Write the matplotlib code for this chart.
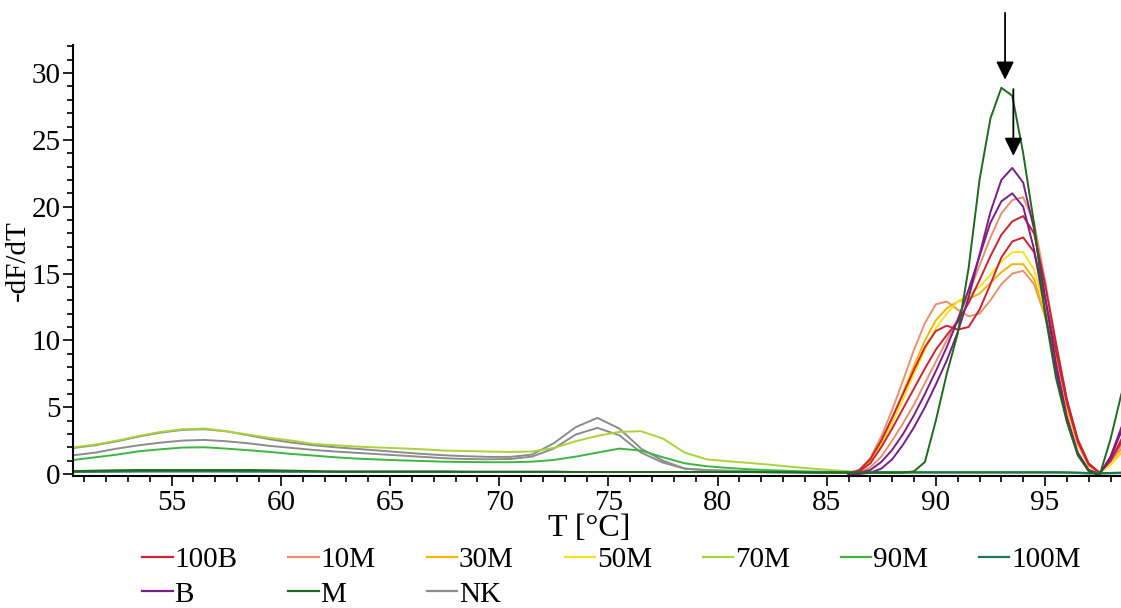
import matplotlib.pyplot as plt
from matplotlib.lines import Line2D

plt.rcParams['font.family'] = ['Liberation Serif', 'DejaVu Serif']

# temperature grids (deg C)
T_LOW = [50.5, 51.5, 52.5, 53.5, 54.5, 55.5, 56.5, 57.5, 58.5, 59.5, 60.5, 61.5,
         62.5, 63.5, 64.5, 65.5, 66.5, 67.5, 68.5, 69.5, 70.5, 71.5, 72.5, 73.5,
         74.5, 75.5, 76.5, 77.5, 78.5, 79.5, 80.5, 81.5, 82.5, 83.5, 84.5, 85.5]
T_HIGH = [86.0, 86.5, 87.0, 87.5, 88.0, 88.5, 89.0, 89.5, 90.0, 90.5, 91.0, 91.5, 92.0,
          92.5, 93.0, 93.5, 94.0, 94.5, 95.0, 95.5, 96.0, 96.5, 97.0, 97.5, 98.0, 98.5]
T_FULL = T_LOW + T_HIGH

# melt peaks, -dF/dT (only the 86-98.5 range is visible)
B100_A = [0.0, 0.2, 0.8, 2.0, 3.4, 4.9, 6.4, 7.9, 9.3, 10.4, 11.4, 12.8, 14.5,
          16.3, 17.9, 18.9, 19.3, 18.0, 14.2, 9.8, 5.6, 2.6, 0.8, 0.1, 1.0, 2.6]
B100_B = [0.0, 0.3, 1.1, 2.5, 4.2, 6.0, 7.8, 9.5, 10.7, 11.1, 10.8, 11.0, 12.3,
          14.2, 16.2, 17.4, 17.7, 16.6, 13.2, 9.2, 5.3, 2.4, 0.7, 0.1, 1.0, 2.4]
M10_A = [0.1, 0.3, 1.2, 2.8, 4.8, 7.0, 9.3, 11.3, 12.7, 12.9, 12.3, 11.8, 12.0,
         13.0, 14.2, 15.0, 15.2, 14.2, 11.8, 8.6, 5.0, 2.3, 0.6, 0.1, 0.8, 1.9]
M10_B = [0.0, 0.1, 0.5, 1.3, 2.5, 3.8, 5.2, 6.8, 8.4, 10.0, 11.6, 13.5, 15.6,
         17.7, 19.5, 20.5, 20.7, 18.8, 14.5, 9.8, 5.5, 2.5, 0.7, 0.1, 0.9, 2.2]
M30 = [0.0, 0.2, 1.0, 2.4, 4.2, 6.1, 8.1, 10.0, 11.5, 12.4, 12.9, 13.1, 13.5,
       14.3, 15.1, 15.7, 15.7, 14.6, 11.9, 8.4, 4.9, 2.2, 0.6, 0.1, 0.7, 1.6]
M50 = [0.0, 0.2, 0.9, 2.2, 3.8, 5.6, 7.5, 9.3, 10.9, 12.0, 12.9, 13.4, 14.0,
       14.9, 15.9, 16.6, 16.6, 15.3, 12.4, 8.7, 5.0, 2.3, 0.6, 0.1, 0.7, 1.7]
B_A = [0.0, 0.0, 0.1, 0.4, 1.1, 2.2, 3.5, 5.0, 6.7, 8.5, 10.6, 13.2, 16.4,
       19.6, 22.0, 22.9, 21.8, 18.3, 13.3, 8.3, 4.3, 1.6, 0.3, 0.0, 1.3, 3.5]
B_B = [0.0, 0.1, 0.3, 0.9, 1.8, 3.0, 4.4, 6.0, 7.7, 9.5, 11.5, 13.8, 16.3,
       18.8, 20.4, 21.0, 20.0, 16.8, 12.2, 7.7, 4.0, 1.5, 0.3, 0.0, 1.2, 3.2]

# full range curves (T_FULL): 36 low points + 26 high points
M70 = [2.0, 2.2, 2.5, 2.85, 3.15, 3.35, 3.4, 3.2, 2.95, 2.7, 2.5, 2.25,
       2.15, 2.05, 1.98, 1.92, 1.85, 1.75, 1.72, 1.68, 1.65, 1.68, 1.95, 2.45,
       2.85, 3.15, 3.2, 2.65, 1.6, 1.1, 0.95, 0.82, 0.68, 0.52, 0.38, 0.26,
       0.2, 0.17, 0.15, 0.13, 0.12, 0.1, 0.1, 0.1, 0.1, 0.1, 0.1, 0.1, 0.1,
       0.1, 0.1, 0.1, 0.1, 0.1, 0.1, 0.1, 0.1, 0.1, 0.08, 0.06, 0.08, 0.1]
M90 = [1.05, 1.25, 1.45, 1.7, 1.85, 1.98, 2.0, 1.9, 1.78, 1.65, 1.5, 1.38,
       1.25, 1.15, 1.08, 1.02, 0.97, 0.92, 0.9, 0.88, 0.88, 0.92, 1.05, 1.3,
       1.6, 1.9, 1.75, 1.25, 0.8, 0.58, 0.45, 0.35, 0.28, 0.22, 0.18, 0.15,
       0.14, 0.13, 0.12, 0.12, 0.12, 0.12, 0.12, 0.12, 0.12, 0.12, 0.12, 0.12, 0.12,
       0.12, 0.12, 0.12, 0.12, 0.12, 0.12, 0.12, 0.1, 0.08, 0.05, 0.04, 0.06, 0.08]
M100 = [0.15, 0.16, 0.17, 0.18, 0.18, 0.18, 0.18, 0.18, 0.17, 0.17, 0.16, 0.16,
        0.15, 0.15, 0.15, 0.15, 0.15, 0.15, 0.15, 0.15, 0.15, 0.15, 0.15, 0.15,
        0.15, 0.15, 0.15, 0.15, 0.15, 0.15, 0.14, 0.14, 0.14, 0.13, 0.13, 0.13,
        0.13, 0.13, 0.13, 0.13, 0.13, 0.13, 0.13, 0.13, 0.13, 0.13, 0.13, 0.13, 0.13,
        0.13, 0.13, 0.13, 0.13, 0.13, 0.13, 0.13, 0.12, 0.1, 0.08, 0.06, 0.08, 0.1]
M_PURE = [0.22, 0.25, 0.28, 0.3, 0.3, 0.3, 0.3, 0.3, 0.3, 0.28, 0.25, 0.22,
          0.2, 0.2, 0.2, 0.2, 0.2, 0.2, 0.18, 0.18, 0.18, 0.18, 0.18, 0.15,
          0.15, 0.15, 0.15, 0.15, 0.15, 0.15, 0.15, 0.15, 0.12, 0.12, 0.1, 0.1,
          0.1, 0.1, 0.1, 0.1, 0.1, 0.1, 0.2, 0.9, 4.0, 7.5, 10.5, 15.4, 22.0,
          26.6, 28.9, 28.3, 24.0, 18.7, 12.0, 7.2, 3.9, 1.4, 0.2, -0.1, 2.6, 6.0]
NK_A = [1.95, 2.15, 2.45, 2.8, 3.1, 3.3, 3.35, 3.2, 2.9, 2.6, 2.35, 2.15,
        2.0, 1.88, 1.75, 1.62, 1.5, 1.4, 1.33, 1.28, 1.28, 1.45, 2.3, 3.5,
        4.2, 3.4, 1.9, 1.0, 0.4, 0.3, 0.25, 0.2, 0.18, 0.15, 0.12, 0.1,
        0.1, 0.1, 0.1, 0.1, 0.1, 0.1, 0.1, 0.1, 0.1, 0.1, 0.1, 0.1, 0.1,
        0.1, 0.1, 0.1, 0.1, 0.1, 0.1, 0.1, 0.1, 0.08, 0.05, 0.04, 0.06, 0.08]
NK_B = [1.4, 1.6, 1.9, 2.15, 2.35, 2.5, 2.55, 2.45, 2.3, 2.1, 1.95, 1.8,
        1.68, 1.58, 1.48, 1.38, 1.28, 1.18, 1.12, 1.1, 1.12, 1.3, 1.9, 2.95,
        3.45, 2.9, 1.6, 0.85, 0.4, 0.28, 0.22, 0.18, 0.15, 0.12, 0.1, 0.08,
        0.08, 0.08, 0.08, 0.08, 0.08, 0.08, 0.08, 0.08, 0.08, 0.08, 0.08, 0.08, 0.08,
        0.08, 0.08, 0.08, 0.08, 0.08, 0.08, 0.08, 0.08, 0.07, 0.05, 0.04, 0.05, 0.06]

COLORS = {'100B': '#cc2233', '10M': '#e8906e', '30M': '#f2b705',
          '50M': '#f7e31c', '70M': '#a9d33a', '90M': '#3db540',
          '100M': '#23735a', 'B': '#7a1e86', 'M': '#1e6b1e', 'NK': '#8c8c8c'}

# (sample, x, y) in draw order
CURVES = [
    ('NK', T_FULL, NK_A), ('NK', T_FULL, NK_B),
    ('70M', T_FULL, M70), ('90M', T_FULL, M90),
    ('10M', T_HIGH, M10_A), ('10M', T_HIGH, M10_B),
    ('30M', T_HIGH, M30), ('50M', T_HIGH, M50),
    ('100B', T_HIGH, B100_A), ('100B', T_HIGH, B100_B),
    ('B', T_HIGH, B_A), ('B', T_HIGH, B_B),
    ('100M', T_FULL, M100), ('M', T_FULL, M_PURE),
]

# arrows marking the peaks
ARROW_T = [93.17, 93.55]
ARROW_TAIL = [34.5, 28.8]
ARROW_TIP = [29.5, 23.8]

fig = plt.figure(figsize=(11.21, 6.08), dpi=100)
ax = fig.add_axes([0.0651, 0.2171, 0.9349, 0.7089])

for name, x, y in CURVES:
    ax.plot(x, y, color=COLORS[name], lw=1.4)

for t, tail, tip in zip(ARROW_T, ARROW_TAIL, ARROW_TIP):
    ax.annotate('', xy=(t, tip), xytext=(t, tail),
                arrowprops=dict(arrowstyle='-|>,head_length=0.55,head_width=0.27',
                                color='black', lw=1.3, shrinkA=0, shrinkB=0,
                                mutation_scale=20),
                annotation_clip=False)

ax.set_xlim(50.48, 98.48)
ax.set_ylim(-0.15, 32.1)
ax.set_xticks([55, 60, 65, 70, 75, 80, 85, 90, 95])
ax.set_xticks(range(51, 99), minor=True)
ax.set_yticks([0, 5, 10, 15, 20, 25, 30])
ax.set_yticks(range(0, 33), minor=True)
ax.tick_params(which='both', direction='out', width=1.2, labelsize=21, colors='black')
ax.tick_params(which='major', length=7, pad=3)
ax.tick_params(which='minor', length=4)
ax.tick_params(axis='y', which='major', pad=2)
for s in ['top', 'right']:
    ax.spines[s].set_visible(False)
for s in ['left', 'bottom']:
    ax.spines[s].set_linewidth(1.5)

ax.set_xlabel('T [°C]', fontsize=23)
ax.xaxis.set_label_coords(0.493, -0.089)
ax.set_ylabel('-dF/dT', fontsize=21)
ax.yaxis.set_label_coords(-0.040, 0.5)

# legend: matplotlib fills columns first, so reorder for 2 rows x 7 cols
order = ['100B', 'B', '10M', 'M', '30M', 'NK', '50M', '70M', '90M', '100M']
handles = [Line2D([], [], color=COLORS[n], lw=1.6) for n in order]
fig.legend(handles, order, loc='upper left', bbox_to_anchor=(0.127, 0.101),
           ncol=7, frameon=False, fontsize=21, handlelength=1.05,
           handletextpad=0.05, columnspacing=1.75, labelspacing=0.28,
           borderpad=0, borderaxespad=0)

fig.savefig('out.png', dpi=100)
